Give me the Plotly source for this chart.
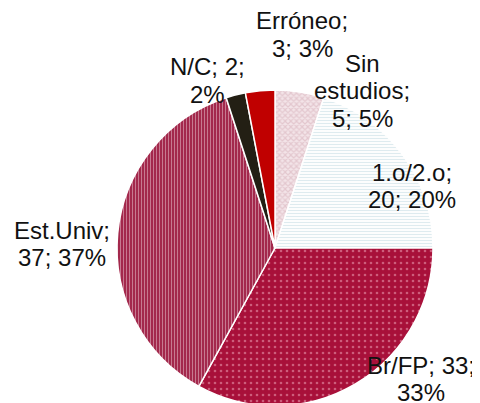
import plotly.graph_objects as go

categories = ["Sin estudios", "1.o/2.o", "Br/FP", "Est.Univ", "N/C", "Erróneo"]
values = [5, 20, 33, 37, 2, 3]
label_lines = [["Sin", "estudios;", "5; 5%"],
               ["1.o/2.o;", "20; 20%"],
               ["Br/FP; 33;", "33%"],
               ["Est.Univ;", "37; 37%"],
               ["N/C; 2;", "2%"],
               ["Erróneo;", "3; 3%"]]

W, H = 480, 403
OFF = 8  # page body margin
# label centre positions in page pixels (x, y of first line)
label_pos = [(362, 63), (412, 172), (421, 365), (62, 230), (207, 67), (302, 21)]
line_h = 27.5

fill_bg = ["#f3e4e8", "#ffffff", "#a8103a", "#a3284c", "#231f14", "#c00000"]
fill_fg = ["#d3a9b4", "#bdd8e0", "#f2a9bd", "#f4dbe2", "#231f14", "#c00000"]
shapes = ["x", "-", ".", "|", "", ""]
sizes = [4, 3, 6, 3, 8, 8]
solid = [0.5, 0.4, 0.15, 0.3, 0.3, 0.3]

cx, cy, r = 275 - OFF, 248 - OFF, 158
fig = go.Figure(go.Pie(
    labels=categories, values=values, sort=False, direction="clockwise", rotation=0,
    textinfo="none", hoverinfo="label+value+percent",
    marker=dict(colors=fill_bg, line=dict(color="white", width=1.5),
                pattern=dict(shape=shapes, fgcolor=fill_fg, bgcolor=fill_bg,
                             size=sizes, solidity=solid, fillmode="overlay")),
    domain=dict(x=[(cx - r) / W, (cx + r) / W], y=[(H - cy - r) / H, (H - cy + r) / H]),
    showlegend=False,
))

for lines, (px, py) in zip(label_lines, label_pos):
    for i, t in enumerate(lines):
        fig.add_annotation(x=(px - OFF) / W, y=1 - (py - OFF + i * line_h) / H,
                           xref="paper", yref="paper",
                           text=t, showarrow=False, xanchor="center", yanchor="middle",
                           font=dict(family="Liberation Sans, Arial", size=24, color="#111111"))

fig.update_layout(width=W, height=H, margin=dict(l=0, r=0, t=0, b=0),
                  paper_bgcolor="white", plot_bgcolor="white")
fig.write_html("out.html")
